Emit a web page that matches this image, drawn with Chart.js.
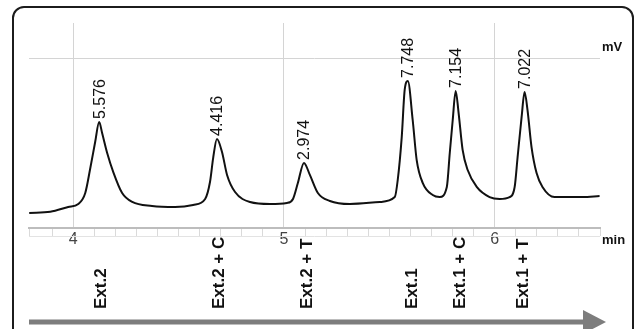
<!doctype html>
<html>
  <head>
    <title>Chromatogram</title>
  </head>

  <body>
    <div id="frame"></div>
    <canvas id="lineChart" width="637" height="329"></canvas>
  </body>

  <script src="https://cdn.jsdelivr.net/npm/chart.js"></script>

  <style>
    html,
    body {
      margin: 0;
      padding: 0;
      background: #fff;
      overflow: hidden;
    }
    #frame {
      position: absolute;
      left: 12px;
      top: 6px;
      width: 618px;
      height: 360px;
      border: 2px solid #1c1c1c;
      border-radius: 12px;
    }
    #lineChart {
      position: absolute;
      left: 0;
      top: 0;
    }
  </style>

  <script>
    // retention time (min) and signal (mV)
    var times = [
      3.791, 3.891, 3.976, 4.024, 4.057, 4.081, 4.104, 4.123, 4.137, 4.161,
      4.19, 4.232, 4.28, 4.374, 4.483, 4.569, 4.626, 4.649, 4.664, 4.682,
      4.706, 4.73, 4.768, 4.839, 4.934, 5.014, 5.043, 5.066, 5.095, 5.123,
      5.161, 5.218, 5.313, 5.455, 5.526, 5.54, 5.559, 5.573, 5.588, 5.611,
      5.63, 5.659, 5.706, 5.739, 5.773, 5.787, 5.801, 5.815, 5.829, 5.848,
      5.872, 5.915, 5.976, 6.024, 6.071, 6.095, 6.109, 6.128, 6.142, 6.156,
      6.175, 6.199, 6.227, 6.284, 6.417, 6.498,
    ];
    var signal = [
      0.89, 0.96, 1.24, 1.42, 2.07, 3.55, 5.09, 6.27, 5.62, 4.44,
      3.31, 2.07, 1.54, 1.3, 1.24, 1.36, 1.72, 2.72, 4.14, 5.27,
      4.5, 3.14, 2.13, 1.54, 1.42, 1.48, 1.72, 2.66, 3.85, 3.14,
      2.07, 1.6, 1.42, 1.54, 1.83, 2.84, 5.38, 8.17, 8.7, 6.39,
      4.02, 2.66, 1.95, 1.83, 2.43, 4.44, 6.39, 8.11, 6.8, 4.62,
      3.43, 2.43, 1.83, 1.72, 1.83, 2.43, 4.2, 6.57, 8.05, 6.98,
      4.79, 3.25, 2.43, 1.83, 1.83, 1.89,
    ];

    // peak apexes and their printed values
    var peakTimes = [4.123, 4.682, 5.095, 5.588, 5.815, 6.142];
    var peakHeights = [6.27, 5.27, 3.85, 8.7, 8.11, 8.05];
    var peakLabels = ["5.576", "4.416", "2.974", "7.748", "7.154", "7.022"];

    // sample names under the axis
    var sampleTimes = [4.135, 4.694, 5.111, 5.609, 5.839, 6.135];
    var sampleLabels = ["Ext.2", "Ext.2 + C", "Ext.2 + T", "Ext.1", "Ext.1 + C", "Ext.1 + T"];

    var FONT = "'Liberation Sans', Arial, sans-serif";

    function isWhole(v) {
      return Math.abs(v - Math.round(v)) < 1e-6;
    }

    var annotate = {
      id: "annotate",
      afterDraw: function (chart) {
        var ctx = chart.ctx;
        var xs = chart.scales.x;
        var ys = chart.scales.y;
        var area = chart.chartArea;
        ctx.save();

        // faint line under the tick marks
        ctx.strokeStyle = "#e3e3e3";
        ctx.lineWidth = 1;
        ctx.beginPath();
        ctx.moveTo(area.left, area.bottom + 8.5);
        ctx.lineTo(area.right, area.bottom + 8.5);
        ctx.stroke();

        // peak values, rotated
        ctx.fillStyle = "#111";
        ctx.font = "16px " + FONT;
        ctx.textAlign = "left";
        ctx.textBaseline = "middle";
        for (var i = 0; i < peakTimes.length; i++) {
          ctx.save();
          ctx.translate(xs.getPixelForValue(peakTimes[i]) + 1, ys.getPixelForValue(peakHeights[i]) - 3);
          ctx.rotate(-Math.PI / 2);
          ctx.fillText(peakLabels[i], 0, 0);
          ctx.restore();
        }

        // sample names
        ctx.font = "bold 17px " + FONT;
        for (var j = 0; j < sampleTimes.length; j++) {
          ctx.save();
          ctx.translate(xs.getPixelForValue(sampleTimes[j]), area.bottom + 81);
          ctx.rotate(-Math.PI / 2);
          ctx.fillText(sampleLabels[j], 0, 0);
          ctx.restore();
        }

        // axis units
        ctx.font = "bold 13px " + FONT;
        ctx.fillText("mV", area.right + 2, ys.getPixelForValue(10) - 12);
        ctx.fillText("min", area.right + 2, area.bottom + 12);

        // arrow along the bottom
        var ay = area.bottom + 94;
        ctx.fillStyle = "#7d7d7d";
        ctx.fillRect(area.left, ay - 2.5, 556, 5);
        ctx.beginPath();
        ctx.moveTo(area.right - 17, ay - 12);
        ctx.lineTo(area.right + 6, ay);
        ctx.lineTo(area.right - 17, ay + 12);
        ctx.closePath();
        ctx.fill();

        ctx.restore();
      },
    };

    var ctx = document.getElementById("lineChart").getContext("2d");
    var chart = new Chart(ctx, {
      type: "line",
      data: {
        datasets: [
          {
            label: "Signal",
            data: times.map(function (t, i) {
              return { x: t, y: signal[i] };
            }),
            borderColor: "#111",
            borderWidth: 2,
            pointRadius: 0,
            fill: false,
            cubicInterpolationMode: "monotone",
          },
        ],
      },
      options: {
        responsive: false,
        animation: false,
        devicePixelRatio: 1,
        layout: {
          padding: { left: 29, right: 37, top: 23, bottom: 61 },
        },
        plugins: {
          legend: { display: false },
          tooltip: { enabled: false },
        },
        scales: {
          x: {
            type: "linear",
            min: 3.79,
            max: 6.5,
            afterFit: function (scale) {
              scale.height = 40;
            },
            grid: {
              color: function (c) {
                return c.tick && isWhole(c.tick.value) ? "#d4d4d4" : "rgba(0,0,0,0)";
              },
              tickColor: function (c) {
                return c.tick && isWhole(c.tick.value) ? "rgba(0,0,0,0)" : "#dadada";
              },
              tickLength: 8,
            },
            border: { color: "#bdbdbd", width: 2 },
            ticks: {
              stepSize: 0.1,
              autoSkip: false,
              maxRotation: 0,
              padding: -6,
              color: "#444",
              font: { family: FONT, size: 16 },
              callback: function (v) {
                return isWhole(v) ? String(Math.round(v)) : "";
              },
            },
          },
          y: {
            min: 0,
            max: 12.13,
            grid: {
              color: function (c) {
                return c.tick && c.tick.value === 10 ? "#d4d4d4" : "rgba(0,0,0,0)";
              },
              drawTicks: false,
            },
            border: { display: false },
            ticks: { display: false, stepSize: 10 },
          },
        },
      },
      plugins: [annotate],
    });
  </script>
</html>
